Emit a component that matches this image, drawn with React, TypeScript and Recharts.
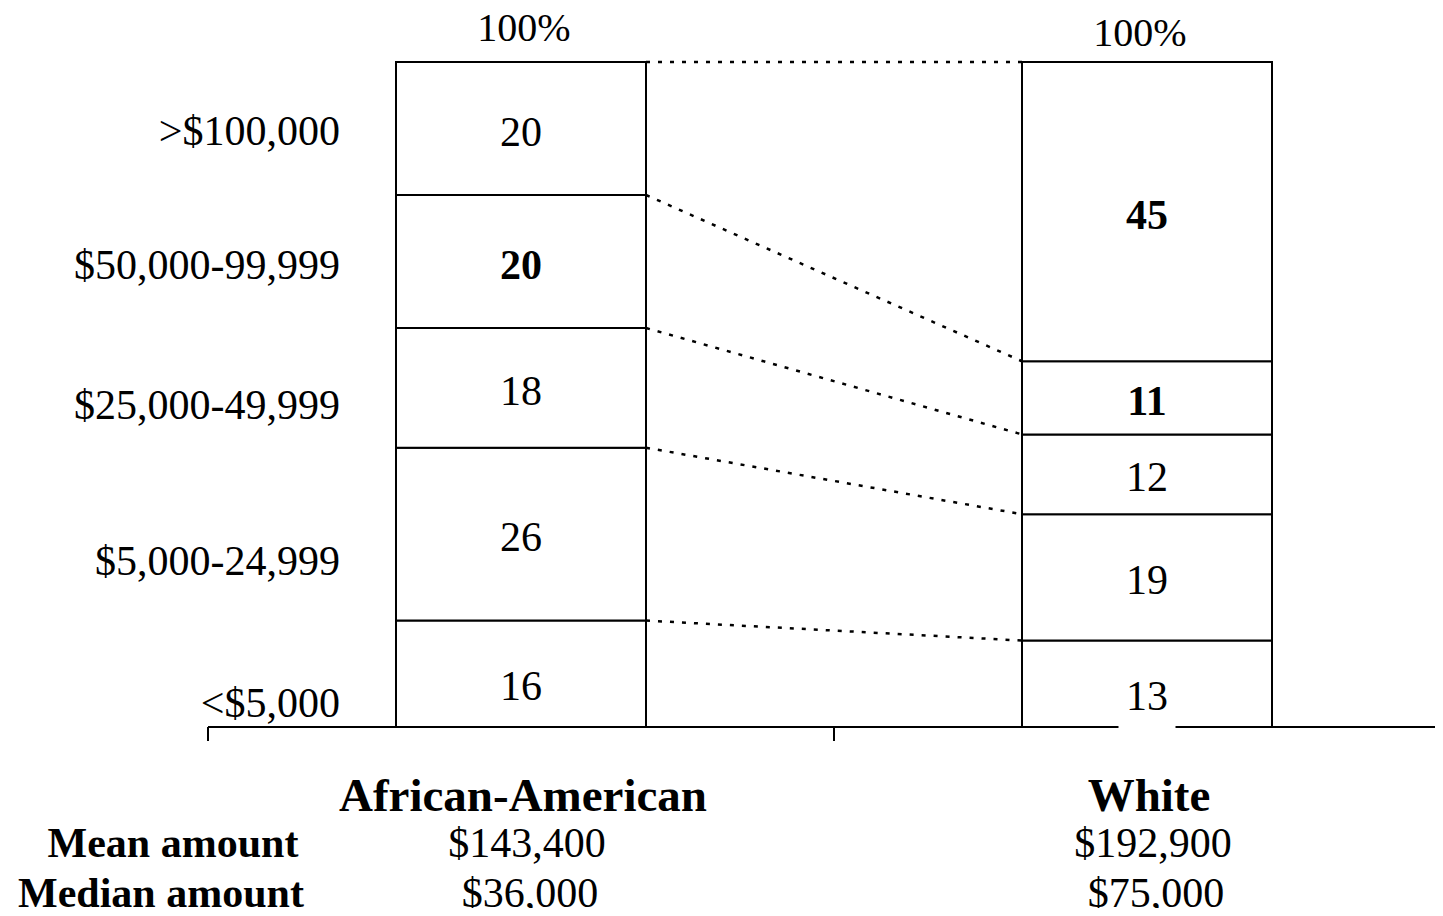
import React from 'react';
import { ComposedChart, Bar, XAxis, YAxis, LabelList, ReferenceLine } from 'recharts';

// ---- data ----
const GROUPS = ['African-American', 'White'];
const BRACKETS = ['<$5,000', '$5,000-24,999', '$25,000-49,999', '$50,000-99,999', '>$100,000'];
const AFRICAN_AMERICAN = [16, 26, 18, 20, 20];
const WHITE = [13, 19, 12, 11, 45];
const MEAN_AMOUNT = ['$143,400', '$192,900'];
const MEDIAN_AMOUNT = ['$36,000', '$75,000'];
const ROW_LABELS = ['Mean amount', 'Median amount'];
const BRACKET_TICKS = [3.6, 25, 48.4, 69.5, 89.6];
const X_TICKS = [0, 1, 2];

// ---- rendering config ----
const EMPHASIS: Record<string, number[]> = { 'African-American': [3], White: [3, 4] };
const FONT = "'Liberation Serif', 'Times New Roman', Times, serif";
const CHART_W = 1460;
const CHART_H = 916;
const MARGIN = { top: 62, right: 0, bottom: 0, left: 148 };
const Y_AXIS_W = 60;
const PLOT_W = CHART_W - MARGIN.left - Y_AXIS_W - MARGIN.right;
const BAR_SIZE = 250;
const HALF_BAR_UNITS = BAR_SIZE / 2 / (PLOT_W / 2);

const SERIES = [AFRICAN_AMERICAN, WHITE];
const DATA = GROUPS.map((g, i) => {
  const row: any = { group: g, x: i + 0.5 };
  BRACKETS.forEach((_, k) => {
    row['s' + k] = SERIES[i][k];
  });
  return row;
});
const cumulative = (arr: number[]) => arr.map((_, k) => arr.slice(0, k + 1).reduce((a, b) => a + b, 0));
const CUM_LEFT = cumulative(AFRICAN_AMERICAN);
const CUM_RIGHT = cumulative(WHITE);
const TOTALS = SERIES.map((s) => s.reduce((a, b) => a + b, 0));

const getBox = (p: any) => {
  const vb = p.viewBox || {};
  return {
    x: p.x ?? vb.x,
    y: p.y ?? vb.y,
    width: p.width ?? vb.width,
    height: p.height ?? vb.height,
  };
};

const makeSegmentLabel = (k: number) => (props: any) => {
  const { x, y, width, height } = getBox(props);
  const index = props.index;
  const value = props.value;
  const cx = x + width / 2;
  const cy = y + height / 2;
  const bold = (EMPHASIS[GROUPS[index]] || []).includes(k);
  const isBottom = k === 0;
  const baseline = cy + (isBottom ? 12 : 3) + 14;
  return (
    <g>
      {isBottom && index === 1 && (
        <rect x={cx - 28.5} y={baseline - 40} width={57} height={62} fill="#ffffff" />
      )}
      <text
        x={cx}
        y={baseline}
        textAnchor="middle"
        fontFamily={FONT}
        fontSize={42}
        fontWeight={bold ? 'bold' : 'normal'}
        fill="#000"
      >
        {value}
      </text>
    </g>
  );
};

const TOTAL_OFFSETS = [
  { dx: 3, dy: -21 },
  { dx: -7, dy: -16 },
];
const TotalLabel = (props: any) => {
  const { x, y, width } = getBox(props);
  const i = props.index;
  const off = TOTAL_OFFSETS[i] || { dx: 0, dy: -20 };
  return (
    <text x={x + width / 2 + off.dx} y={y + off.dy} textAnchor="middle" fontFamily={FONT} fontSize={40} fill="#000">
      {TOTALS[i] + '%'}
    </text>
  );
};

const BracketTick = (props: any) => {
  const { y, payload } = props;
  const idx = BRACKET_TICKS.indexOf(payload.value);
  return (
    <text x={340} y={y + 14} textAnchor="end" fontFamily={FONT} fontSize={42} fill="#000">
      {BRACKETS[idx]}
    </text>
  );
};

const EmptyTick = () => <g />;

const GroupTick = (props: any) => {
  const { x, payload, index } = props;
  const i = GROUPS.indexOf(payload.value);
  return (
    <g>
      <text x={x + 2} y={811} textAnchor="middle" fontFamily={FONT} fontSize={47} fontWeight="bold" fill="#000">
        {payload.value}
      </text>
      <text x={x + 6} y={857} textAnchor="middle" fontFamily={FONT} fontSize={42} fill="#000">
        {MEAN_AMOUNT[i]}
      </text>
      <text x={x + 9} y={907} textAnchor="middle" fontFamily={FONT} fontSize={42} fill="#000">
        {MEDIAN_AMOUNT[i]}
      </text>
      {index === 0 && (
        <g>
          <text x={173} y={857} textAnchor="middle" fontFamily={FONT} fontSize={42} fontWeight="bold" fill="#000">
            {ROW_LABELS[0]}
          </text>
          <text x={161} y={907} textAnchor="middle" fontFamily={FONT} fontSize={42} fontWeight="bold" fill="#000">
            {ROW_LABELS[1]}
          </text>
        </g>
      )}
    </g>
  );
};

export default function App() {
  return (
    <div style={{ width: 1443, height: CHART_H, overflow: 'hidden', margin: '-8px 0 -8px -8px' }}>
      <ComposedChart width={CHART_W} height={CHART_H} data={DATA} margin={MARGIN}>
        <XAxis
          xAxisId="a"
          type="number"
          dataKey="x"
          domain={[0, 2]}
          ticks={X_TICKS}
          tick={EmptyTick}
          tickSize={14}
          height={20}
          axisLine={{ stroke: '#000', strokeWidth: 2 }}
          tickLine={{ stroke: '#000', strokeWidth: 2 }}
        />
        <XAxis
          xAxisId="b"
          type="category"
          dataKey="group"
          axisLine={false}
          tickLine={false}
          height={169}
          interval={0}
          tick={GroupTick}
        />
        <YAxis
          type="number"
          domain={[0, 100]}
          ticks={BRACKET_TICKS}
          width={Y_AXIS_W}
          axisLine={false}
          tickLine={false}
          tick={BracketTick}
        />
        {BRACKETS.map((b, k) => (
          <Bar
            key={b}
            xAxisId="a"
            dataKey={'s' + k}
            stackId="a"
            fill="#ffffff"
            stroke="#000"
            strokeWidth={2}
            barSize={BAR_SIZE}
            isAnimationActive={false}
          >
            <LabelList dataKey={'s' + k} content={makeSegmentLabel(k)} />
            {k === BRACKETS.length - 1 && <LabelList dataKey={'s' + k} content={TotalLabel} />}
          </Bar>
        ))}
        {CUM_LEFT.map((v, k) => (
          <ReferenceLine
            key={'c' + k}
            xAxisId="a"
            segment={[
              { x: 0.5 + HALF_BAR_UNITS, y: v },
              { x: 1.5 - HALF_BAR_UNITS, y: CUM_RIGHT[k] },
            ]}
            stroke="#000"
            strokeWidth={2.5}
            strokeDasharray="4 8"
          />
        ))}
      </ComposedChart>
    </div>
  );
}
